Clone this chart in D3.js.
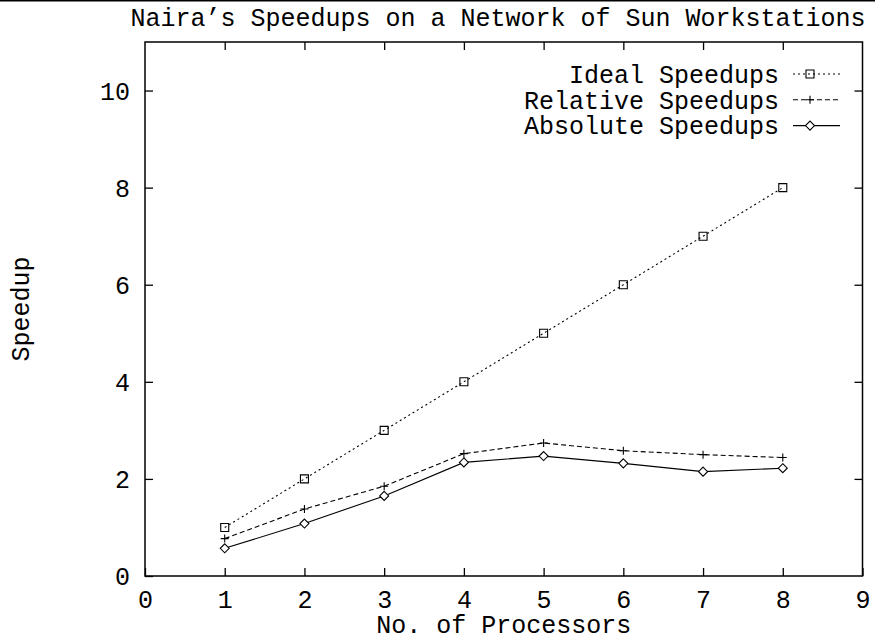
<!DOCTYPE html>
<meta charset="utf-8">
<html>
<script src="https://d3js.org/d3.v7.min.js"></script>
<style>
    body { margin: 0; background: #fff; }
    text { font-family: "Liberation Mono", "Courier New", monospace; font-size: 25px; fill: #000; }
</style>
<body>
<div id="chart"></div>
<script>
    // data
    var procs = [1, 2, 3, 4, 5, 6, 7, 8];
    var ideal = [1, 2, 3, 4, 5, 6, 7, 8];
    var relative = [0.77, 1.38, 1.85, 2.52, 2.74, 2.58, 2.50, 2.44];
    var absolute = [0.57, 1.08, 1.65, 2.34, 2.47, 2.32, 2.15, 2.22];
    var xTicks = [0, 1, 2, 3, 4, 5, 6, 7, 8, 9];
    var yTicks = [0, 2, 4, 6, 8, 10];
    var seriesNames = ["Ideal Speedups", "Relative Speedups", "Absolute Speedups"];

    var W = 875, H = 638;
    var margin = { top: 42, right: 12.5, bottom: 62, left: 145 },
        width = W - margin.left - margin.right,
        height = H - margin.top - margin.bottom;

    var root = d3.select("#chart").append("svg")
        .attr("width", W)
        .attr("height", H);

    // rule across the top of the page
    root.append("line")
        .attr("x1", 0).attr("x2", W)
        .attr("y1", 0.75).attr("y2", 0.75)
        .attr("stroke", "#000").attr("stroke-width", 1.5);

    var svg = root.append("g")
        .attr("transform", "translate(" + margin.left + "," + margin.top + ")");

    var x = d3.scaleLinear().domain([0, 9]).range([0, width]);
    var y = d3.scaleLinear().domain([0, 11]).range([height, 0]);

    // axes with inward ticks on all four sides
    var xb = svg.append("g")
        .attr("transform", "translate(0," + height + ")")
        .call(d3.axisBottom(x).tickValues(xTicks).tickSizeInner(-8).tickSizeOuter(0).tickFormat(d3.format("d")));
    xb.selectAll("text").attr("y", 32).attr("dy", null);

    svg.append("g")
        .call(d3.axisTop(x).tickValues(xTicks.slice(1, -1)).tickSizeInner(-8).tickSizeOuter(0).tickFormat(""));

    var yl = svg.append("g")
        .call(d3.axisLeft(y).tickValues(yTicks).tickSizeInner(-8).tickSizeOuter(0).tickFormat(d3.format("d")));
    yl.selectAll("text").attr("x", -15).attr("dy", "0.35em");

    svg.append("g")
        .attr("transform", "translate(" + width + ",0)")
        .call(d3.axisRight(y).tickValues(yTicks.slice(1)).tickSizeInner(-8).tickSizeOuter(0).tickFormat(""));

    svg.selectAll(".domain").remove();
    svg.selectAll(".tick line").attr("stroke", "#000").attr("stroke-width", 1.3);
    svg.selectAll(".tick text").style("font-family", "'Liberation Mono', monospace").style("font-size", "25px");

    svg.append("rect")
        .attr("x", 0).attr("y", 0)
        .attr("width", width).attr("height", height)
        .attr("fill", "none").attr("stroke", "#000").attr("stroke-width", 1.5);

    // marker shapes
    function marker(kind, cx, cy) {
        if (kind === "square") {
            return "M" + (cx - 4) + "," + (cy - 4) + "h8v8h-8z";
        } else if (kind === "plus") {
            return "M" + (cx - 4) + "," + cy + "h8M" + cx + "," + (cy - 4) + "v8";
        }
        return "M" + cx + "," + (cy - 4.5) + "l4.5,4.5l-4.5,4.5l-4.5,-4.5z";
    }

    var series = [
        { name: seriesNames[0], values: ideal, dash: "2,3", kind: "square" },
        { name: seriesNames[1], values: relative, dash: "5,3", kind: "plus" },
        { name: seriesNames[2], values: absolute, dash: null, kind: "diamond" }
    ];

    var line = d3.line()
        .x(function (d, i) { return x(procs[i]); })
        .y(function (d) { return y(d); });

    series.forEach(function (s) {
        svg.append("path")
            .datum(s.values)
            .attr("fill", "none")
            .attr("stroke", "#000")
            .attr("stroke-width", 1.1)
            .attr("stroke-dasharray", s.dash)
            .attr("d", line);

        svg.selectAll(null)
            .data(s.values).enter().append("path")
            .attr("d", function (d, i) { return marker(s.kind, x(procs[i]), y(d)); })
            .attr("fill", s.kind === "diamond" ? "#fff" : "none")
            .attr("stroke", "#000")
            .attr("stroke-width", 1.1);
    });

    // legend
    var legendTop = 74 - margin.top, legendStep = 25.8;
    series.forEach(function (s, i) {
        var ly = legendTop + i * legendStep;
        svg.append("text")
            .attr("x", 779 - margin.left)
            .attr("y", ly)
            .attr("dy", "0.35em")
            .attr("text-anchor", "end")
            .text(s.name);
        svg.append("line")
            .attr("x1", 793 - margin.left).attr("x2", 840 - margin.left)
            .attr("y1", ly).attr("y2", ly)
            .attr("stroke", "#000").attr("stroke-width", 1.1)
            .attr("stroke-dasharray", s.dash);
        svg.append("path")
            .attr("d", marker(s.kind, 810 - margin.left, ly))
            .attr("fill", s.kind === "diamond" ? "#fff" : "none")
            .attr("stroke", "#000").attr("stroke-width", 1.1);
    });

    // titles
    root.append("text")
        .attr("x", 498).attr("y", 26)
        .attr("text-anchor", "middle")
        .text("Naira\u2019s Speedups on a Network of Sun Workstations");

    root.append("text")
        .attr("x", margin.left + width / 2).attr("y", 633)
        .attr("text-anchor", "middle")
        .text("No. of Processors");

    root.append("text")
        .attr("transform", "translate(29," + (margin.top + height / 2) + ") rotate(-90)")
        .attr("text-anchor", "middle")
        .text("Speedup");
</script>
</body>
</html>
